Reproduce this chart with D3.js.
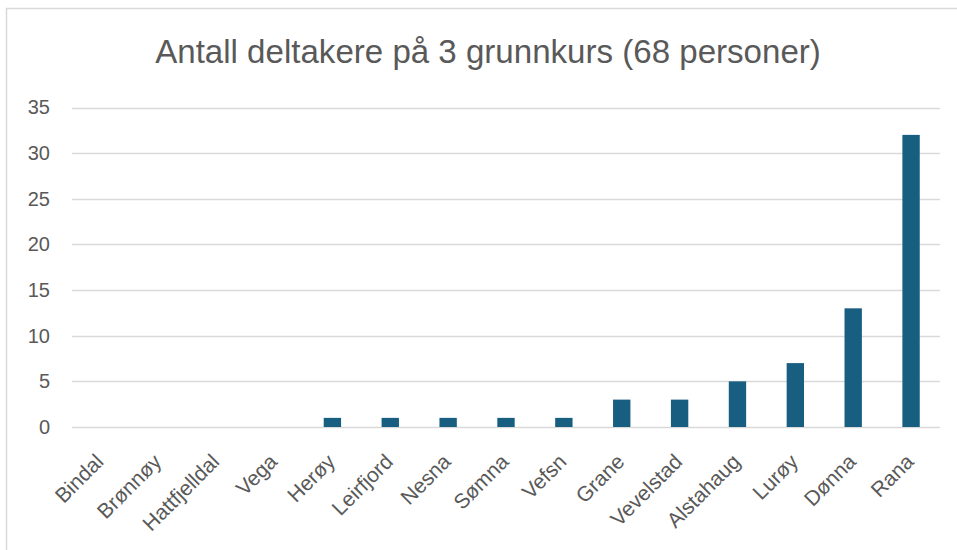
<!DOCTYPE html>
<html>
<head>
<meta charset="utf-8">
<script src="https://cdn.jsdelivr.net/npm/d3@7"></script>
<style>
  body { margin: 0; background: #fff; }
  svg { display: block; }
</style>
</head>
<body>
<div id="chart"></div>
<script>
// chart data
var kommuner = ["Bindal", "Brønnøy", "Hattfjelldal", "Vega", "Herøy", "Leirfjord", "Nesna",
  "Sømna", "Vefsn", "Grane", "Vevelstad", "Alstahaug", "Lurøy", "Dønna", "Rana"];
var deltakere = [0, 0, 0, 0, 1, 1, 1, 1, 1, 3, 3, 5, 7, 13, 32];
var yTicks = [0, 5, 10, 15, 20, 25, 30, 35];
var tittel = "Antall deltakere på 3 grunnkurs (68 personer)";

var width = 957;
var height = 550;
var margin = { top: 107.5, right: 17, bottom: 123, left: 72 };
var textColor = "#595959";
var font = "'Liberation Sans', Arial, sans-serif";

var svg = d3.select("#chart")
  .append("svg")
  .attr("width", width)
  .attr("height", height);

// chart frame
svg.append("rect")
  .attr("x", 6.5)
  .attr("y", 8.5)
  .attr("width", 960)
  .attr("height", 560)
  .attr("fill", "#fff")
  .attr("stroke", "#d9d9d9")
  .attr("stroke-width", 1.5);

var x = d3.scaleBand()
  .domain(kommuner)
  .range([margin.left, width - margin.right])
  .paddingInner(0.7)
  .paddingOuter(0.35);

var y = d3.scaleLinear()
  .domain([0, 35])
  .range([height - margin.bottom, margin.top]);

// gridlines
svg.append("g")
  .selectAll("line")
  .data(yTicks)
  .enter()
  .append("line")
  .attr("x1", margin.left)
  .attr("x2", width - margin.right)
  .attr("y1", function(d) { return Math.round(y(d)) + 0.5; })
  .attr("y2", function(d) { return Math.round(y(d)) + 0.5; })
  .attr("stroke", "#d9d9d9")
  .attr("stroke-width", 1.5);

// y axis labels
var yAxis = d3.axisLeft(y)
  .tickValues(yTicks)
  .tickSize(0)
  .tickPadding(0);

svg.append("g")
  .attr("transform", "translate(50,0)")
  .call(yAxis)
  .call(function(g) { g.select(".domain").remove(); })
  .selectAll("text")
  .attr("fill", textColor)
  .style("font-family", font)
  .style("font-size", "20px");

// bars
svg.append("g")
  .selectAll("rect")
  .data(deltakere)
  .enter()
  .append("rect")
  .attr("x", function(d, i) { return x(kommuner[i]); })
  .attr("width", x.bandwidth())
  .attr("y", function(d) { return y(d); })
  .attr("height", function(d) { return y(0) - y(d); })
  .attr("fill", "#175e80");

// x axis labels, rotated
var xAxis = d3.axisBottom(x)
  .tickSize(0)
  .tickPadding(0);

svg.append("g")
  .attr("transform", "translate(0," + y(0) + ")")
  .call(xAxis)
  .call(function(g) { g.select(".domain").remove(); })
  .selectAll("text")
  .attr("fill", textColor)
  .style("font-family", font)
  .style("font-size", "21px")
  .attr("text-anchor", "end")
  .attr("y", 0)
  .attr("dy", 0)
  .attr("transform", "translate(4,36) rotate(-45)");

// title
var title = svg.append("text")
  .attr("x", 488)
  .attr("y", 63)
  .attr("text-anchor", "middle")
  .attr("fill", textColor)
  .style("font-family", font)
  .style("font-size", "28px")
  .text(tittel);

// scale title font so it spans about the same width as in the original
var tw = title.node().getComputedTextLength();
title.style("font-size", (28 * 667 / tw).toFixed(1) + "px");
</script>
</body>
</html>
